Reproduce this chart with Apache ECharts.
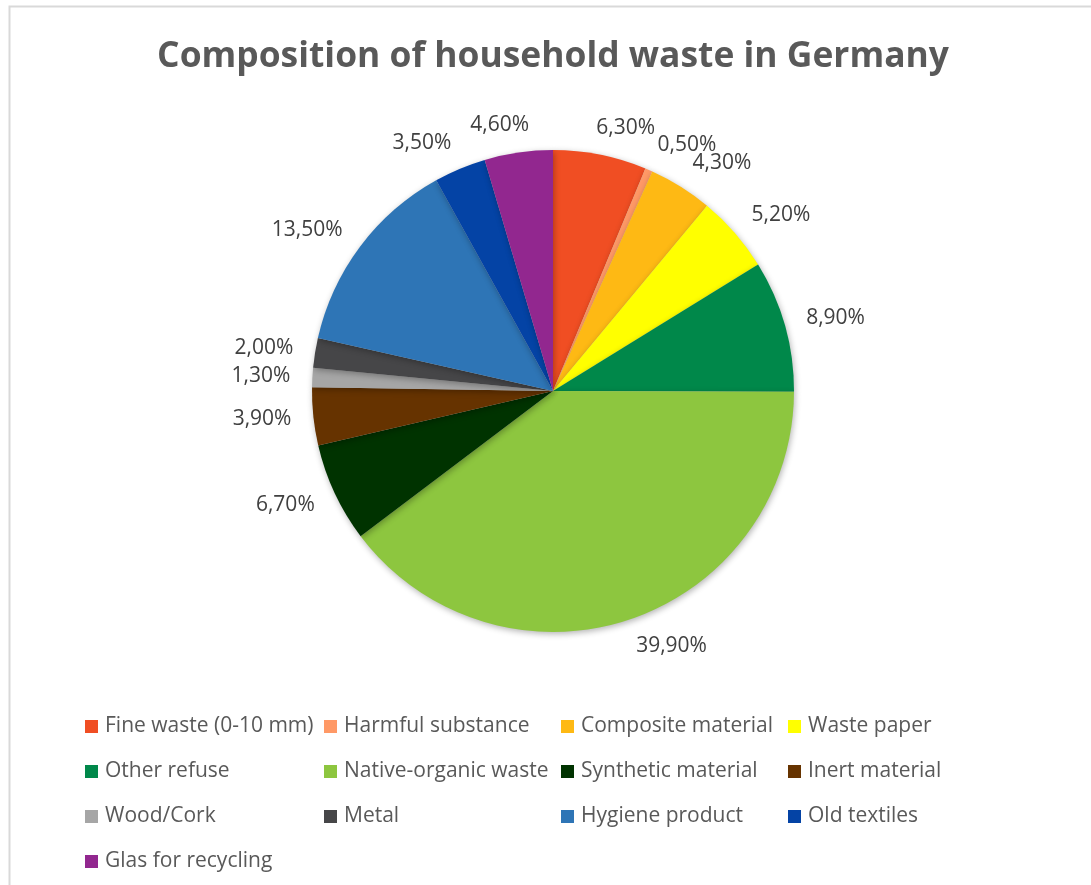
<!DOCTYPE html>
<html>
<head>
<meta charset="utf-8">
<script src="https://cdn.jsdelivr.net/npm/echarts@6/dist/echarts.min.js"></script>
<style>
html,body{margin:0;padding:0;background:#fff;}
#chart{width:1091px;height:885px;}
</style>
</head>
<body>
<div id="chart"></div>
<script>
var categories = ["Fine waste (0-10 mm)", "Harmful substance", "Composite material", "Waste paper",
  "Other refuse", "Native-organic waste", "Synthetic material", "Inert material",
  "Wood/Cork", "Metal", "Hygiene product", "Old textiles", "Glas for recycling"];
var values = [6.3, 0.5, 4.3, 5.2, 8.9, 39.9, 6.7, 3.9, 1.3, 2.0, 13.5, 3.5, 4.6];
var colors = ["#F04E23", "#FF9966", "#FEB914", "#FFFF00", "#00884A", "#8DC63F", "#003300",
  "#663300", "#A6A6A6", "#464648", "#2E75B6", "#0443A5", "#92278F"];
var legendColumns = [
  ["Fine waste (0-10 mm)", "Other refuse", "Wood/Cork", "Glas for recycling"],
  ["Harmful substance", "Native-organic waste", "Metal"],
  ["Composite material", "Synthetic material", "Hygiene product"],
  ["Waste paper", "Inert material", "Old textiles"]
];
var titleText = "Composition of household waste in Germany";

var CX = 553, CY = 391, R = 241, GAP_X = 22, GAP_Y = 17;
var FONT = 'Open Sans';
var LABEL_FS = 21;
var total = values.reduce(function (a, b) { return a + b; }, 0);
var mids = [];
(function () {
  var acc = 0;
  for (var i = 0; i < values.length; i++) {
    mids.push((acc + values[i] / 2) / total * 2 * Math.PI);
    acc += values[i];
  }
})();

var chart = echarts.init(document.getElementById('chart'), null, {renderer: 'canvas'});
var legendLefts = [85, 324, 561, 788];
var legends = legendColumns.map(function (col, i) {
  return {
    data: col,
    orient: 'vertical',
    left: legendLefts[i],
    top: 716,
    padding: 0,
    icon: 'rect',
    itemWidth: 13,
    itemHeight: 13,
    itemGap: 24,
    selectedMode: false,
    textStyle: {fontFamily: FONT, fontSize: 21, lineHeight: 21, color: '#595959', padding: [0, 0, 0, 2]}
  };
});

var option = {
  backgroundColor: '#ffffff',
  animation: false,
  title: {
    text: titleText,
    left: 548,
    textAlign: 'center',
    top: 34,
    textStyle: {fontFamily: FONT, fontWeight: 'bold', fontSize: 35.4, color: '#595959'}
  },
  legend: legends,
  graphic: [{
    type: 'polyline',
    shape: {points: [[9.5, 885], [9.5, 6.5], [1091, 6.5]]},
    style: {stroke: '#D9D9D9', lineWidth: 2, fill: null},
    silent: true
  }],
  series: [{
    type: 'pie',
    center: [CX, CY],
    radius: R,
    startAngle: 90,
    clockwise: true,
    avoidLabelOverlap: false,
    data: categories.map(function (c, i) {
      return {name: c, value: values[i], itemStyle: {color: colors[i]}};
    }),
    itemStyle: {
      shadowBlur: 6, shadowColor: 'rgba(0,0,0,0.30)', shadowOffsetX: 1, shadowOffsetY: 2
    },
    label: {
      show: true,
      position: 'outside',
      fontFamily: FONT,
      fontSize: LABEL_FS,
      color: '#404040',
      formatter: function (p) { return p.value.toFixed(2).replace('.', ',') + '%'; }
    },
    labelLine: {show: false, length: 10, length2: 0},
    emphasis: {disabled: true},
    labelLayout: function (params) {
      var a = mids[params.dataIndex];
      var ux = Math.sin(a), uy = -Math.cos(a);
      var w = params.labelRect.width;
      var sx = ux >= 0 ? 1 : -1;
      var px = CX + ux * (R + GAP_X) + sx * (w / 2) * Math.min(1, 3.7 * Math.abs(ux));
      var py = CY + uy * (R + GAP_Y + LABEL_FS / 2);
      return {x: px, y: py, align: 'center', verticalAlign: 'middle', hideOverlap: false};
    }
  }]
};
chart.setOption(option);
</script>
</body>
</html>
